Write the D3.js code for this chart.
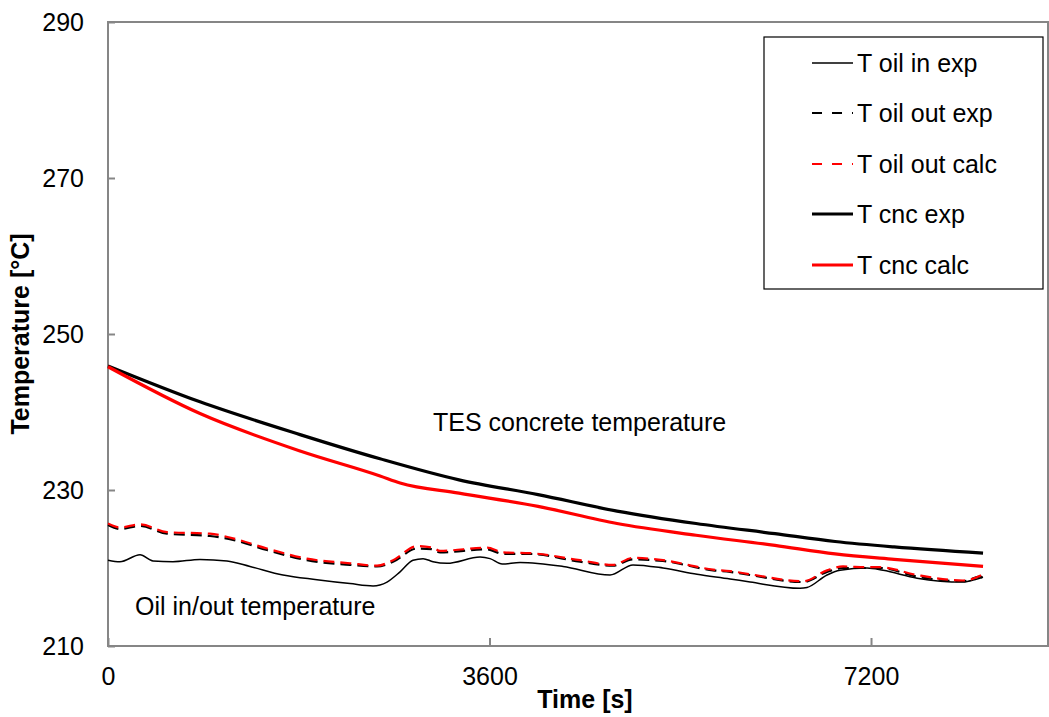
<!DOCTYPE html>
<html><head><meta charset="utf-8">
<script src="https://cdn.jsdelivr.net/npm/d3@7"></script>
<style>body{margin:0;background:#fff}svg{display:block;font-family:"Liberation Sans",Arial,sans-serif}</style>
</head><body><svg id="c" width="1049" height="717"></svg>
<script>
const xTicks=[0,3600,7200];
const yTicks=[210,230,250,270,290];
const seriesNames=["T oil in exp","T oil out exp","T oil out calc","T cnc exp","T cnc calc"];

const oilInT=[0,113,302,425,613,868,1123,1340,1651,1972,2284,2501,2633,2756,2878,2973,3067,3199,3511,3605,3719,3888,4294,4737,4954,5237,5558,5870,6059,6530,6596,6785,6908,7163,7314,7635,8069,8201,8257];
const oilInV=[221.0,220.8,221.7,220.9,220.8,221.1,220.9,220.2,219.1,218.5,218.0,217.7,218.2,219.5,221.0,221.2,220.8,220.6,221.4,221.2,220.5,220.7,220.2,219.1,220.4,220.0,219.2,218.6,218.2,217.4,217.5,219.1,219.7,220.0,219.7,218.7,218.2,218.6,218.8];

const oilOutT=[0,113,302,557,962,1180,1500,1878,2284,2539,2690,2916,3067,3133,3577,3728,3983,4454,4765,4954,5237,5709,5870,6059,6559,6785,6936,7163,7285,7635,8069,8229,8257];
const oilOutExpV=[225.5,225.0,225.4,224.4,224.1,223.6,222.3,221.0,220.4,220.2,220.8,222.5,222.4,222.0,222.4,221.8,221.8,220.8,220.3,221.1,220.9,219.7,219.5,219.1,218.2,219.5,220.0,220.0,220.0,218.9,218.3,218.9,218.7];
const oilOutCalcV=[225.7,225.2,225.6,224.6,224.4,223.8,222.5,221.2,220.6,220.3,221.0,222.8,222.6,222.2,222.6,222.0,221.9,221.0,220.4,221.3,221.0,219.8,219.6,219.2,218.3,219.7,220.2,220.1,220.1,219.1,218.4,219.0,219.2];

const cncExpT=[0,868,1812,2567,3312,4058,4803,5549,6294,6861,7418,8257];
const cncExpV=[245.9,241.3,237.1,234.0,231.3,229.4,227.3,225.7,224.4,223.4,222.7,221.9];
const cncCalcT=[0,868,1812,2567,2756,3312,4058,4803,5549,6294,6861,7418,8257];
const cncCalcV=[245.8,239.8,235.0,231.8,230.9,229.6,227.9,225.7,224.2,222.9,221.8,221.1,220.2];

const svg=d3.select("#c");
const L=108,R=1048,T=22,B=646;
const x=d3.scaleLinear().domain([0,8870]).range([L,R]);
const y=d3.scaleLinear().domain([210,290]).range([B,T]);
const grey="#868686";

svg.append("rect").attr("x",L).attr("y",T).attr("width",R-L).attr("height",B-T).attr("fill","none").attr("stroke",grey).attr("stroke-width",2);

const ya=svg.append("g").attr("transform",`translate(${L},0)`).call(d3.axisLeft(y).tickValues(yTicks).tickFormat(d3.format("d")).tickSizeInner(-7).tickSizeOuter(0).tickPadding(24));
ya.select(".domain").remove();
ya.selectAll("line").attr("stroke",grey).attr("stroke-width",2);
ya.selectAll("text").attr("font-size",25).attr("fill","#000").attr("font-family","Liberation Sans, Arial, sans-serif");
const xa=svg.append("g").attr("transform",`translate(0,${B})`).call(d3.axisBottom(x).tickValues(xTicks).tickFormat(d3.format("d")).tickSizeInner(-8).tickSizeOuter(0).tickPadding(21));
xa.select(".domain").remove();
xa.selectAll("line").attr("stroke",grey).attr("stroke-width",2);
xa.selectAll("text").attr("font-size",25).attr("fill","#000").attr("font-family","Liberation Sans, Arial, sans-serif");

const z=(a,b)=>a.map((t,i)=>[t,b[i]]);
const series=[
 {d:z(oilInT,oilInV),c:"#000",w:1.5,dash:null},
 {d:z(oilOutT,oilOutExpV),c:"#000",w:2.2,dash:"11,6"},
 {d:z(oilOutT,oilOutCalcV),c:"#ff0000",w:2.2,dash:"11,6"},
 {d:z(cncExpT,cncExpV),c:"#000",w:3.2,dash:null},
 {d:z(cncCalcT,cncCalcV),c:"#ff0000",w:3.2,dash:null}
];
const lineC=d3.line().curve(d3.curveMonotoneX).x(d=>x(d[0])).y(d=>y(d[1]));
series.forEach(s=>{
  svg.append("path").datum(s.d).attr("d",lineC).attr("fill","none").attr("stroke",s.c).attr("stroke-width",s.w).attr("stroke-dasharray",s.dash);
});

svg.append("text").attr("x",433).attr("y",431).attr("font-size",25).text("TES concrete temperature");
svg.append("text").attr("x",135).attr("y",615).attr("font-size",25).text("Oil in/out temperature");
svg.append("text").attr("x",585).attr("y",708).attr("text-anchor","middle").attr("font-size",25).attr("font-weight","bold").text("Time [s]");
svg.append("text").attr("transform","translate(29,334) rotate(-90)").attr("text-anchor","middle").attr("font-size",25).attr("font-weight","bold").text("Temperature [°C]");

const lg=svg.append("g");
lg.append("rect").attr("x",764).attr("y",37).attr("width",279).attr("height",252).attr("fill","#fff").attr("stroke","#000").attr("stroke-width",1.2);
const rowsY=[63,113,164,214,265];
series.forEach((s,i)=>{
  lg.append("line").attr("x1",812).attr("x2",853).attr("y1",rowsY[i]).attr("y2",rowsY[i]).attr("stroke",s.c).attr("stroke-width",s.w).attr("stroke-dasharray",s.dash?"10,10":null);
  lg.append("text").attr("x",857).attr("y",rowsY[i]+9).attr("font-size",25).text(seriesNames[i]);
});
</script></body></html>
